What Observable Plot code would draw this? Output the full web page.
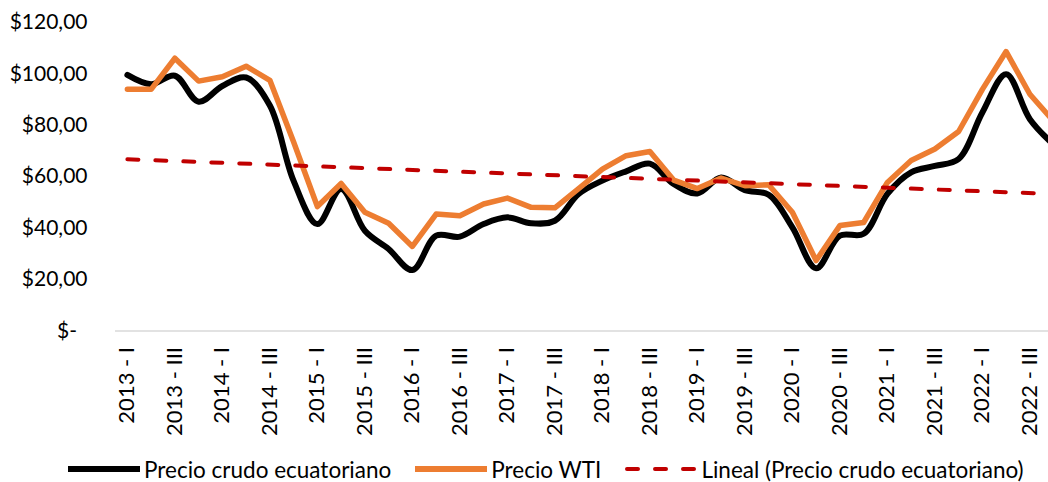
<!DOCTYPE html>
<html><head><meta charset="utf-8">
<script src="https://cdn.jsdelivr.net/npm/d3@7"></script>
<script src="https://cdn.jsdelivr.net/npm/@observablehq/plot@0.6"></script>
<style>
html,body{margin:0;padding:0;background:#fff;overflow:hidden;width:1048px;height:482px;}
#chart{position:absolute;left:0;top:0;width:1048px;height:445px;overflow:hidden;}
#chart svg{max-width:none !important;width:1065px !important;height:445px !important;}
#legend{position:absolute;left:68px;top:456px;height:26px;display:flex;align-items:center;font-family:Lato,sans-serif;font-size:22.5px;color:#000;white-space:nowrap;}
.item{display:flex;align-items:center;margin-right:24px;}
.item svg{margin-right:4px;display:block;}
</style></head><body>
<div id="chart"></div>
<div id="legend"></div>
<script>
const quarters = [
  "2013 - I","2013 - II","2013 - III","2013 - IV",
  "2014 - I","2014 - II","2014 - III","2014 - IV",
  "2015 - I","2015 - II","2015 - III","2015 - IV",
  "2016 - I","2016 - II","2016 - III","2016 - IV",
  "2017 - I","2017 - II","2017 - III","2017 - IV",
  "2018 - I","2018 - II","2018 - III","2018 - IV",
  "2019 - I","2019 - II","2019 - III","2019 - IV",
  "2020 - I","2020 - II","2020 - III","2020 - IV",
  "2021 - I","2021 - II","2021 - III","2021 - IV",
  "2022 - I","2022 - II","2022 - III","2022 - IV"
];
const ecuador = [
  99.6, 96.0, 99.3, 89.2,
  95.3, 98.6, 87.7, 58.4,
  41.6, 55.2, 39.0, 31.9,
  23.7, 37.1, 36.7, 41.6,
  44.2, 41.9, 42.9, 53.3,
  58.5, 62.1, 65.1, 57.2,
  53.5, 59.7, 54.8, 53.0,
  40.3, 24.4, 37.1, 37.8,
  53.3, 61.7, 64.2, 66.9,
  85.0, 99.9, 82.4, 72.5
];
const wti = [
  94.0, 94.0, 106.1, 97.2,
  98.9, 103.0, 97.5, 73.5,
  48.4, 57.4, 46.2, 41.9,
  32.9, 45.5, 44.8, 49.4,
  51.7, 48.1, 47.9, 55.4,
  63.0, 68.2, 69.8, 58.7,
  55.4, 59.5, 56.5, 56.9,
  46.2, 27.4, 41.0, 42.2,
  57.8, 66.3, 70.8, 77.6,
  94.0, 108.7, 92.1, 81.6
];
const yTicks = [0, 20, 40, 60, 80, 100, 120];
const seriesNames = ["Precio crudo ecuatoriano", "Precio WTI", "Lineal (Precio crudo ecuatoriano)"];
const seriesColors = ["#000000", "#ED7D31", "#C00000"];

const rows = quarters.map((q, i) => ({i, q, ecuador: ecuador[i], wti: wti[i]}));
const xTickIdx = quarters.map((q, i) => i).filter(i => i % 2 === 0);
const fmtY = d => d === 0 ? "$-\u2002" : "$" + d.toFixed(2).replace(".", ",");

const plot = Plot.plot({
  width: 1065, height: 445,
  marginLeft: 115, marginRight: 0, marginTop: 22, marginBottom: 114.5,
  style: {fontFamily: "Lato, sans-serif", fontSize: "21px", color: "#000", background: "#fff", overflow: "hidden", maxWidth: "none"},
  x: {type: "linear", domain: [-0.5, quarters.length - 0.5], axis: null, label: null},
  y: {domain: [0, 120], axis: null, label: null},
  marks: [
    Plot.ruleY([0], {stroke: "#d9d9d9", strokeWidth: 1.5}),
    Plot.axisY(yTicks, {tickSize: 0, tickPadding: 28, tickFormat: fmtY, fontSize: 21, fill: "#000", label: null}),
    Plot.axisX(xTickIdx, {tickSize: 0, tickRotate: -90, tickPadding: 16, tickFormat: i => quarters[i], fontSize: 22, fill: "#000", label: null}),
    Plot.line(rows, {x: "i", y: "ecuador", stroke: seriesColors[0], strokeWidth: 6, curve: "catmull-rom"}),
    Plot.line(rows, {x: "i", y: "wti", stroke: seriesColors[1], strokeWidth: 5.5}),
    Plot.linearRegressionY(rows, {x: "i", y: "ecuador", stroke: seriesColors[2], strokeWidth: 4, strokeDasharray: "11,17", strokeLinecap: "round", ci: 0})
  ]
});
document.getElementById("chart").appendChild(plot);

const legend = document.getElementById("legend");
seriesNames.forEach((name, k) => {
  const item = document.createElement("div");
  item.className = "item";
  const dash = k === 2 ? 'stroke-dasharray="11,17" stroke-linecap="round"' : 'stroke-linecap="butt"';
  const sw = k === 2 ? 4 : 6;
  const x1 = k === 2 ? 2 : 0, x2 = k === 2 ? 70 : 72;
  item.innerHTML = `<svg width="72" height="10"><line x1="${x1}" y1="5" x2="${x2}" y2="5" stroke="${seriesColors[k]}" stroke-width="${sw}" ${dash}/></svg><span>${name}</span>`;
  legend.appendChild(item);
});
</script>
</body></html>
